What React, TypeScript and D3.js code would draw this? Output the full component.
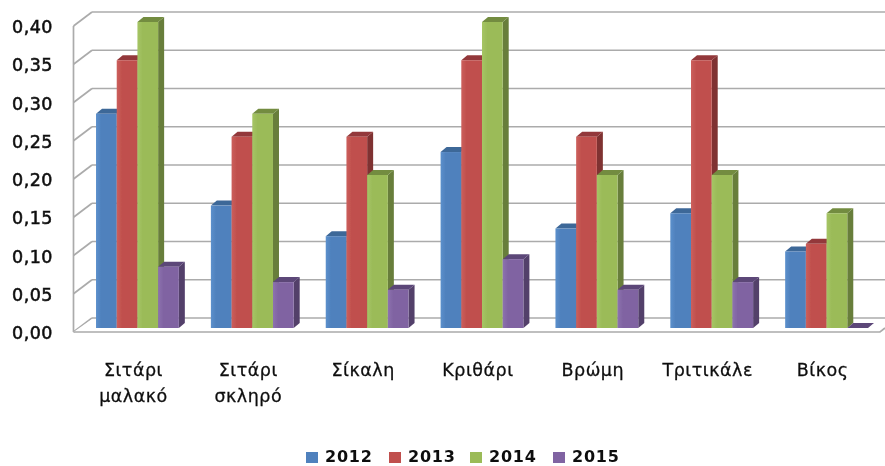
import React from "react";
import * as d3 from "d3";

const categories = ["Σιτάρι μαλακό", "Σιτάρι σκληρό", "Σίκαλη", "Κριθάρι", "Βρώμη", "Τριτικάλε", "Βίκος"];
const categoryLines = [["Σιτάρι", "μαλακό"], ["Σιτάρι", "σκληρό"], ["Σίκαλη"], ["Κριθάρι"], ["Βρώμη"], ["Τριτικάλε"], ["Βίκος"]];
const years = ["2012", "2013", "2014", "2015"];
const v2012 = [0.28, 0.16, 0.12, 0.23, 0.13, 0.15, 0.10];
const v2013 = [0.35, 0.25, 0.25, 0.35, 0.25, 0.35, 0.11];
const v2014 = [0.40, 0.28, 0.20, 0.40, 0.20, 0.20, 0.15];
const v2015 = [0.08, 0.06, 0.05, 0.09, 0.05, 0.06, 0.00];
const seriesValues = [v2012, v2013, v2014, v2015];
const ticks = [0, 0.05, 0.1, 0.15, 0.2, 0.25, 0.3, 0.35, 0.4];
const fronts = ["#4F81BD", "#C0504D", "#9BBB59", "#8064A2"];
const lights = ["#5C90CC", "#CC5F5C", "#A6C565", "#8D72AF"];
const sides = ["#3A6190", "#7F3230", "#687E3A", "#523F6B"];
const tops = ["#3D6798", "#93383A", "#738C40", "#5B4678"];

const font = "'DejaVu Sans', sans-serif";
const legendX = [306, 389, 470, 553];

export default function App() {
  const y = d3.scaleLinear().domain([0, 0.4]).range([332, 26]);
  const x0 = d3.scaleBand<string>().domain(categories).range([80, 884]).paddingInner(0.279).paddingOuter(0.1395);
  const x1 = d3.scaleBand<string>().domain(years).range([0, x0.bandwidth()]);
  const dx = 6, dy = 5, front = -4, backX = 92, backY = -14;
  const pts = (p: number[][]) => p.map((q) => q.join(",")).join(" ");
  return (
    <svg width={885} height={466} style={{ position: "absolute", left: 0, top: 0, background: "#fff" }} fontFamily={font}>
      <defs>
        <filter id="soft" x="-2%" y="-2%" width="104%" height="104%">
          <feGaussianBlur stdDeviation="0.6" />
        </filter>
        {fronts.map((c, i) => (
          <linearGradient key={c} id={`g${i}`} x1="0" x2="1" y1="0" y2="0">
            <stop offset="0" stopColor={lights[i]} />
            <stop offset="0.25" stopColor={c} />
            <stop offset="1" stopColor={c} />
          </linearGradient>
        ))}
      </defs>
      <g filter="url(#soft)">
        {ticks.map((t) => (
          <g key={t} stroke="#ABABAB" strokeWidth={1.7} fill="none">
            <line x1={backX} x2={885} y1={y(t) + backY} y2={y(t) + backY} />
            <line x1={73.5} x2={backX} y1={y(t)} y2={y(t) + backY} />
          </g>
        ))}
        <line x1={73.5} x2={73.5} y1={y(0.4)} y2={y(0)} stroke="#ABABAB" strokeWidth={1.7} />
        <polygon points={pts([[73.5, y(0)], [backX, y(0) + backY + 1], [885, y(0) + backY + 1], [885, y(0) - 4], [880, y(0)]])} fill="#fff" />
        <polyline points={pts([[73.5, y(0)], [880, y(0)], [885, y(0) - 4]])} fill="none" stroke="#ABABAB" strokeWidth={1.7} />
        {categories.map((c, ci) =>
          seriesValues.map((vals, si) => {
            const bx = (x0(c) as number) + (x1(years[si]) as number);
            const bw = x1.bandwidth();
            const top = y(vals[ci]) + front;
            const base = y(0) + front;
            return (
              <g key={`${c}${si}`}>
                <polygon points={pts([[bx + bw, top], [bx + bw + dx, top - dy], [bx + bw + dx, base - dy], [bx + bw, base]])} fill={sides[si]} />
                <polygon points={pts([[bx, top], [bx + dx, top - dy], [bx + bw + dx, top - dy], [bx + bw, top]])} fill={tops[si]} />
                {vals[ci] > 0 && <rect x={bx} y={top} width={bw} height={base - top} fill={`url(#g${si})`} />}
              </g>
            );
          })
        )}
        {ticks.map((t) => (
          <text key={t} x={53} y={y(t) + 7} textAnchor="end" fontSize={17.5} letterSpacing={0.5} stroke="#111" strokeWidth={0.55} fill="#111">
            {d3.format(".2f")(t).replace(".", ",")}
          </text>
        ))}
        {categories.map((c, ci) =>
          categoryLines[ci].map((line, li) => (
            <text key={line + li} x={(x0(c) as number) + x0.bandwidth() / 2 - 4} y={376 + li * 26} textAnchor="middle" fontSize={17.5} letterSpacing={0.5} stroke="#111" strokeWidth={0.3} fill="#111">
              {line}
            </text>
          ))
        )}
        {years.map((yr, i) => (
          <g key={yr}>
            <rect x={legendX[i]} y={452} width={12} height={11} fill={fronts[i]} />
            <text x={legendX[i] + 19} y={462} fontSize={16} fontWeight={700} letterSpacing={0.8} fill="#111">{yr}</text>
          </g>
        ))}
      </g>
    </svg>
  );
}
